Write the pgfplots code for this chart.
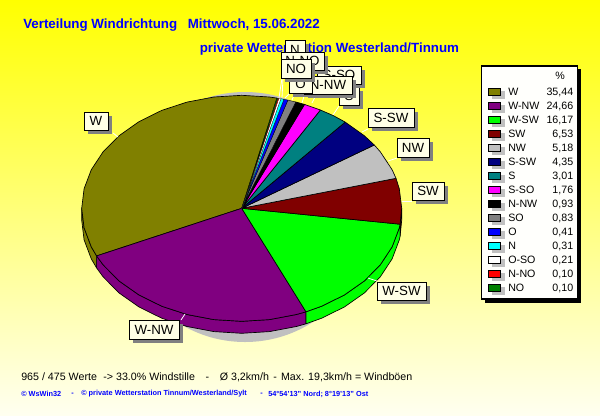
\documentclass[border=0pt]{standalone}
\usepackage{fontspec}
\setmainfont{Liberation Sans}
\usepackage{pgfplots}
\pgfplotsset{compat=1.18}
\definecolor{cW}{HTML}{808000}\definecolor{cWNW}{HTML}{800080}\definecolor{cWSW}{HTML}{00FF00}
\definecolor{cSW}{HTML}{800000}\definecolor{cNW}{HTML}{C0C0C0}\definecolor{cSSW}{HTML}{000080}
\definecolor{cS}{HTML}{008080}\definecolor{cSSO}{HTML}{FF00FF}\definecolor{cNNW}{HTML}{000000}
\definecolor{cSO}{HTML}{808080}\definecolor{cO}{HTML}{0000FF}\definecolor{cN}{HTML}{00FFFF}
\definecolor{cOSO}{HTML}{FFFFFF}\definecolor{cNNO}{HTML}{FF0000}\definecolor{cNO}{HTML}{008000}
\definecolor{cream}{HTML}{FFFFE6}\definecolor{sh}{HTML}{808080}\definecolor{lsh}{HTML}{C0C0C0}
\newcommand{\lab}[5]{%
  \fill[sh] (axis cs:#1+4,#2+4) rectangle (axis cs:#3+4,#4+4);
  \filldraw[fill=cream,draw=black,line width=0.6pt] (axis cs:#1,#2) rectangle (axis cs:#3,#4);
  \node[font=\fontsize{10}{10}\selectfont,inner sep=0pt,anchor=center] at (axis cs:{(#1+#3)/2},{(#2+#4)/2}) {#5};}
\newcommand{\lead}[4]{\draw[white,line width=0.6pt] (axis cs:#1,#2) -- (axis cs:#3,#4);}
\newcommand{\leg}[3]{%
  \fill[lsh] (axis cs:492.3,#1-0.7) rectangle (axis cs:504.7,#1+7.3);
  \filldraw[fill=#2,draw=black,line width=0.6pt] (axis cs:488.3,#1-3.6) rectangle (axis cs:500.7,#1+3.6);
  \node[font=\fontsize{8}{8}\selectfont,inner sep=0pt,anchor=west] at (axis cs:508,#1) {#3};}
\newcommand{\legv}[2]{\node[font=\fontsize{8}{8}\selectfont,inner sep=0pt,anchor=east] at (axis cs:573.5,#1) {#2};}
\begin{document}
\begin{tikzpicture}
\begin{axis}[scale only axis,width=450pt,height=311.25pt,xmin=0,xmax=600,ymin=0,ymax=415,y dir=reverse,hide axis,no markers,
  every axis plot/.append style={draw=black,line width=0.5pt,line join=round}]
\shade[top color=yellow,bottom color={rgb,255:red,255;green,255;blue,240}] (axis cs:0,0) rectangle (axis cs:600,415);
% title
\node[font=\fontsize{10}{10}\selectfont\bfseries,text=blue,anchor=west,inner sep=0pt] at (axis cs:23,25.5) {Verteilung Windrichtung\hspace{0.8em}Mittwoch, 15.06.2022};
\node[font=\fontsize{10}{10}\selectfont\bfseries,text=blue,anchor=west,inner sep=0pt] at (axis cs:199.5,49.5) {private Wetterstation Westerland/Tinnum};
% shadow
\fill[lsh] (axis cs:245,217) circle [radius=125];
% pie side
\addplot[fill=cW] coordinates {(81.7,208.3)(84.1,227.9)(91.3,246.9)(96.6,255.9)(96.6,267.9)(91.3,258.9)(84.1,239.9)(81.7,220.3)(81.7,208.3)};
\addplot[fill=cWNW] coordinates {(96.6,255.9)(103.1,264.8)(119.1,281.0)(138.9,294.9)(161.7,306.2)(187.0,314.5)(213.9,319.6)(241.7,321.3)(269.5,319.6)(296.4,314.5)(306.0,311.8)(306.0,323.8)(296.4,326.5)(269.5,331.6)(241.7,333.3)(213.9,331.6)(187.0,326.5)(161.7,318.2)(138.9,306.9)(119.1,293.0)(103.1,276.8)(96.6,267.9)(96.6,255.9)};
\addplot[fill=cWSW] coordinates {(306.0,311.8)(321.7,306.2)(344.5,294.9)(364.3,281.0)(380.3,264.8)(392.1,246.9)(399.3,227.9)(400.1,224.2)(400.1,236.2)(399.3,239.9)(392.1,258.9)(380.3,276.8)(364.3,293.0)(344.5,306.9)(321.7,318.2)(306.0,323.8)(306.0,311.8)};
\addplot[fill=cSW] coordinates {(400.1,224.2)(401.7,208.3)(401.7,220.3)(400.1,236.2)(400.1,224.2)};
% pie top
\addplot[fill=cW] coordinates {(241.7,208.3)(276.9,98.1)(269.5,97.0)(241.7,95.3)(213.9,97.0)(187.0,102.1)(161.7,110.4)(138.9,121.7)(119.1,135.7)(103.1,151.8)(91.3,169.7)(84.1,188.7)(81.7,208.3)(84.1,227.9)(91.3,246.9)(96.6,255.9)(241.7,208.3)};
\addplot[fill=cWNW] coordinates {(241.7,208.3)(96.6,255.9)(103.1,264.8)(119.1,281.0)(138.9,294.9)(161.7,306.2)(187.0,314.5)(213.9,319.6)(241.7,321.3)(269.5,319.6)(296.4,314.5)(306.0,311.8)(241.7,208.3)};
\addplot[fill=cWSW] coordinates {(241.7,208.3)(306.0,311.8)(321.7,306.2)(344.5,294.9)(364.3,281.0)(380.3,264.8)(392.1,246.9)(399.3,227.9)(400.1,224.2)(241.7,208.3)};
\addplot[fill=cSW] coordinates {(241.7,208.3)(400.1,224.2)(401.7,208.3)(399.3,188.7)(396.0,178.3)(241.7,208.3)};
\addplot[fill=cNW] coordinates {(241.7,208.3)(396.0,178.3)(392.1,169.7)(380.3,151.8)(374.3,145.0)(241.7,208.3)};
\addplot[fill=cSSW] coordinates {(241.7,208.3)(374.3,145.0)(364.3,135.7)(345.2,122.1)(241.7,208.3)};
\addplot[fill=cS] coordinates {(241.7,208.3)(345.2,122.1)(333.5,115.7)(320.4,110.0)(241.7,208.3)};
\addplot[fill=cSSO] coordinates {(241.7,208.3)(320.4,110.0)(304.5,104.4)(241.7,208.3)};
\addplot[fill=cNNW] coordinates {(241.7,208.3)(304.5,104.4)(295.8,102.0)(241.7,208.3)};
\addplot[fill=cSO,line width=0.3pt] coordinates {(241.7,208.3)(295.8,102.0)(287.9,100.1)(241.7,208.3)};
\addplot[fill=cO,line width=0.2pt] coordinates {(241.7,208.3)(287.9,100.1)(283.9,99.3)(241.7,208.3)};
\addplot[fill=cN,line width=0.2pt] coordinates {(241.7,208.3)(283.9,99.3)(280.9,98.7)(241.7,208.3)};
\addplot[fill=cOSO,line width=0.15pt] coordinates {(241.7,208.3)(280.9,98.7)(278.8,98.4)(241.7,208.3)};
\addplot[fill=cNNO,line width=0.1pt] coordinates {(241.7,208.3)(278.8,98.4)(277.8,98.2)(241.7,208.3)};
\addplot[fill=cNO,line width=0.1pt] coordinates {(241.7,208.3)(277.8,98.2)(276.9,98.1)(241.7,208.3)};
% leaders
\lead{113}{133}{118}{137}\lead{185}{314}{181}{320}\lead{368}{278}{377}{281}\lead{402}{201}{412}{201}
\lead{388}{161}{397}{158}\lead{362}{132}{368}{129}\lead{333}{115}{339}{106}\lead{312}{103}{315}{97}
\lead{302}{103}{305}{93}\lead{292}{100}{295}{93}\lead{285}{98}{290}{93}\lead{282}{98}{283}{78}\lead{279}{98}{282}{78}
% labels
\lab{84}{112}{108}{130}{W}
\lab{129}{320}{179}{339}{W-NW}
\lab{377}{282}{426}{300}{W-SW}
\lab{412}{182}{444}{200}{SW}
\lab{397}{138}{429}{157}{NW}
\lab{368}{108}{414}{127}{S-SW}
\lab{339}{87}{359}{105}{S}
\lab{317}{66}{361}{84}{S-SO}
\lab{285}{40}{305}{60}{N}
\lab{281}{52}{324}{70}{N-NO}
\lab{289}{75}{312}{93}{O}
\lab{304}{76}{352}{94}{N-NW}
\filldraw[fill=cream,draw=black,line width=0.6pt] (axis cs:289,75) rectangle (axis cs:312,93);
\node[font=\fontsize{10}{10}\selectfont,inner sep=0pt] at (axis cs:300.5,84) {O};
\lab{281}{59}{311}{78}{NO}
% legend
\fill[black] (axis cs:484.5,69) rectangle (axis cs:581,302.5);
\filldraw[fill={rgb,255:red,255;green,255;blue,252},draw=black,line width=0.8pt] (axis cs:481.3,66) rectangle (axis cs:577.7,299);
\node[font=\fontsize{8}{8}\selectfont,inner sep=0pt] at (axis cs:560,76) {\%};
\leg{92}{cW}{W}\legv{92}{35,44}
\leg{106}{cWNW}{W-NW}\legv{106}{24,66}
\leg{120}{cWSW}{W-SW}\legv{120}{16,17}
\leg{134}{cSW}{SW}\legv{134}{6,53}
\leg{148}{cNW}{NW}\legv{148}{5,18}
\leg{162}{cSSW}{S-SW}\legv{162}{4,35}
\leg{176}{cS}{S}\legv{176}{3,01}
\leg{190}{cSSO}{S-SO}\legv{190}{1,76}
\leg{204}{cNNW}{N-NW}\legv{204}{0,93}
\leg{218}{cSO}{SO}\legv{218}{0,83}
\leg{232}{cO}{O}\legv{232}{0,41}
\leg{246}{cN}{N}\legv{246}{0,31}
\leg{260}{cOSO}{O-SO}\legv{260}{0,21}
\leg{274}{cNNO}{N-NO}\legv{274}{0,10}
\leg{288}{cNO}{NO}\legv{288}{0,10}
% footer
\node[font=\fontsize{8}{8}\selectfont,anchor=west,inner sep=0pt] at (axis cs:21,377) {965 / 475 Werte\hspace{0.6em}-> 33.0\% Windstille\hspace{1em}-\hspace{1em}Ø 3,2km/h\hspace{0.4em}-\hspace{0.4em}Max. 19,3km/h = Windböen};
\node[font=\fontsize{5.5}{6}\selectfont\bfseries,text=blue,anchor=west,inner sep=0pt] at (axis cs:21,394) {© WsWin32};
\node[font=\fontsize{5.5}{6}\selectfont\bfseries,text=blue,anchor=west,inner sep=0pt] at (axis cs:71,394) {-};
\node[font=\fontsize{5.5}{6}\selectfont\bfseries,text=blue,anchor=west,inner sep=0pt] at (axis cs:81,394) {© private Wetterstation Tinnum/Westerland/Sylt};
\node[font=\fontsize{5.5}{6}\selectfont\bfseries,text=blue,anchor=west,inner sep=0pt] at (axis cs:260,394) {-};
\node[font=\fontsize{5.5}{6}\selectfont\bfseries,text=blue,anchor=west,inner sep=0pt] at (axis cs:268,394) {54°54'13'' Nord; 8°19'13'' Ost};
\end{axis}
\end{tikzpicture}
\end{document}
